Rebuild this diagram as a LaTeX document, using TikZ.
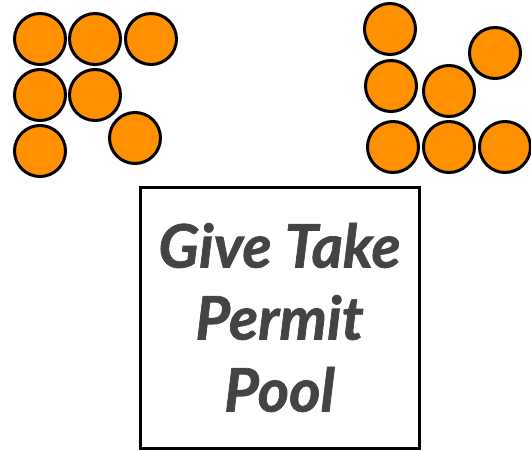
\documentclass[tikz,border=0pt]{standalone}
\usepackage{xcolor}
\usepackage{fontspec}
\usepackage{tikz}
\newfontfamily\latofont{Lato}[BoldItalicFeatures={FakeBold=1.2}]
\definecolor{permitorange}{HTML}{FF9100}
\definecolor{pooltext}{HTML}{444444}
\tikzset{
  permit/.style={circle, draw=black, line width=3pt, fill=permitorange, minimum size=51pt, inner sep=0pt},
  poolbox/.style={draw=black, line width=3pt, minimum width=279pt, minimum height=261pt, align=center, text=pooltext,
    font=\latofont\bfseries\itshape\fontsize{60}{72}\selectfont}
}

\begin{document}
\begin{tikzpicture}[x=1pt, y=-1pt]
    \useasboundingbox (0,0) rectangle (531,450);

    % permits on the left
    \node[permit] (l1) at (40,39) {};
    \node[permit] (l2) at (95,39) {};
    \node[permit] (l3) at (151,39) {};
    \node[permit] (l4) at (40,95) {};
    \node[permit] (l5) at (95,95) {};
    \node[permit] (l6) at (40,151) {};
    \node[permit] (l7) at (135,138) {};

    % permits on the right
    \node[permit] (r1) at (390,29) {};
    \node[permit] (r2) at (495,53) {};
    \node[permit] (r3) at (391,86) {};
    \node[permit] (r4) at (449,91) {};
    \node[permit] (r5) at (393,147) {};
    \node[permit] (r6) at (449,147) {};
    \node[permit] (r7) at (505,147) {};

    \node[poolbox] (pool) at (279.5,317.5) {Give Take\\Permit\\Pool};
  \end{tikzpicture}
\end{document}
